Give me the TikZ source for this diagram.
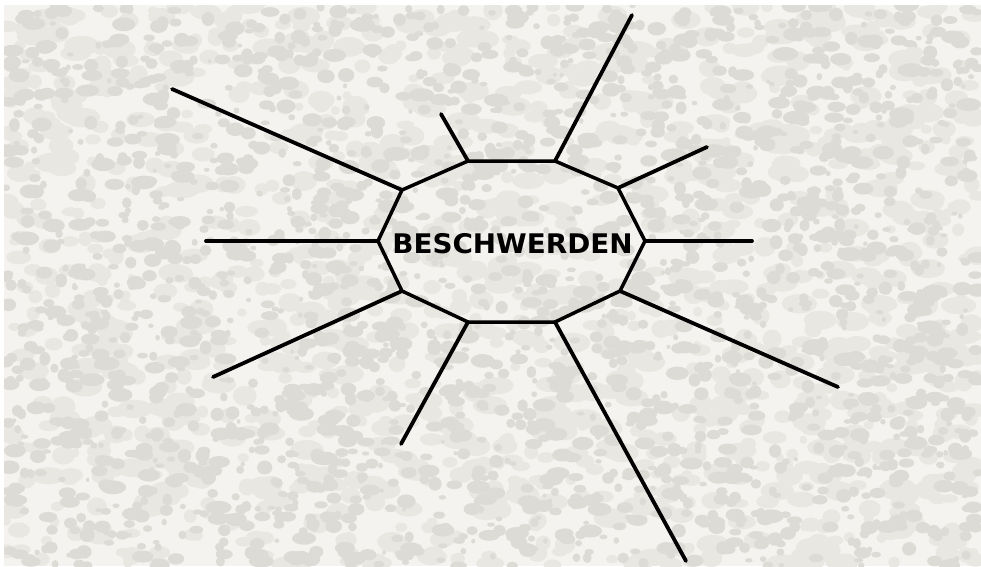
\documentclass[tikz,border=0pt]{standalone}
\usepackage{fontspec}
\newfontfamily\dvs{DejaVu Sans}
\definecolor{bgbase}{HTML}{F5F3EF}
\definecolor{blot}{HTML}{DDDBD6}
\definecolor{blotlight}{HTML}{E9E7E2}
\begin{document}
\begin{tikzpicture}[x=1pt,y=-1pt,
  ray/.style={line width=3.8pt,line cap=round,black},
  edge/.style={line width=3.5pt,line join=round,black}]
\useasboundingbox (0,0) rectangle (981,566);
\fill[white] (0,0) rectangle (981,566);
\begin{scope}
\clip (4,5) rectangle (981,566);
\fill[bgbase] (4,5) rectangle (981,566);
\pgfmathsetseed{4711}
\foreach \i in {1,...,1300}{
  \pgfmathsetmacro\bx{4+977*rnd}
  \pgfmathsetmacro\by{5+561*rnd}
  \pgfmathsetmacro\br{4+6*rnd}
  \pgfmathsetmacro\bs{0.7+0.9*rnd}
  \fill[blotlight] (\bx,\by) ellipse[x radius=\br*\bs*1.3, y radius=\br];
}
\foreach \i in {1,...,2300}{
  \pgfmathsetmacro\bx{4+977*rnd}
  \pgfmathsetmacro\by{5+561*rnd}
  \pgfmathsetmacro\br{2+5*rnd}
  \pgfmathsetmacro\bs{0.6+0.9*rnd}
  \fill[blot] (\bx,\by) ellipse[x radius=\br*\bs*1.3, y radius=\br];
}
\end{scope}
% decagon vertices
\coordinate (v1) at (468,161);
\coordinate (v2) at (555,161);
\coordinate (v3) at (618,188);
\coordinate (v4) at (645,241);
\coordinate (v5) at (620,291);
\coordinate (v6) at (555,322);
\coordinate (v7) at (468,322);
\coordinate (v8) at (402,291);
\coordinate (v9) at (378,241);
\coordinate (v10) at (402,190);
% ray ends
\coordinate (e1) at (441,114);
\coordinate (e2) at (632,15);
\coordinate (e3) at (707,147);
\coordinate (e4) at (752,241);
\coordinate (e5) at (838,387);
\coordinate (e6) at (686,561);
\coordinate (e7) at (401,444);
\coordinate (e8) at (213,377);
\coordinate (e9) at (206,241);
\coordinate (e10) at (172,89);
\foreach \k in {1,...,10}{\draw[ray] (v\k) -- (e\k);}
\draw[edge] (v1) -- (v2) -- (v3) -- (v4) -- (v5) -- (v6) -- (v7) -- (v8) -- (v9) -- (v10) -- cycle;
\node[anchor=base,inner sep=0pt,xscale=1.03] (title) at (512.5,253.5)
  {\dvs\bfseries\fontsize{27}{31}\selectfont BESCHWERDEN};
\end{tikzpicture}
\end{document}
